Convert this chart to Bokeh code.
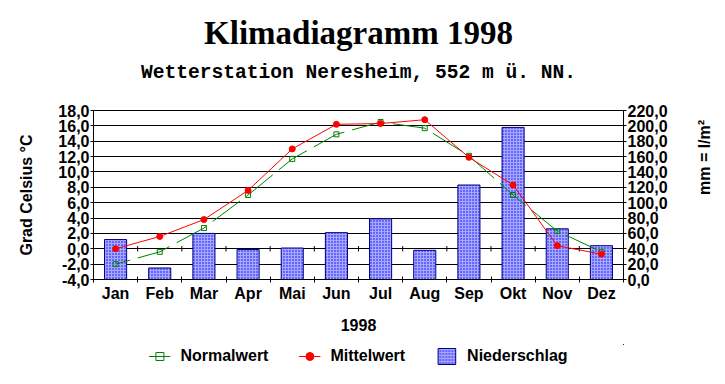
import math
from bokeh.plotting import figure
from bokeh.layouts import column
from bokeh.models import Range1d, LinearAxis, FixedTicker, Legend, LegendItem, Title
from bokeh.embed import file_html
from bokeh.resources import INLINE

# ---- data ----
months = ["Jan", "Feb", "Mar", "Apr", "Mai", "Jun", "Jul", "Aug", "Sep", "Okt", "Nov", "Dez"]
normalwert = [-2.0, -0.4, 2.7, 7.0, 11.7, 14.9, 16.5, 15.7, 12.1, 7.0, 2.3, -0.4]
mittelwert = [0.0, 1.6, 3.8, 7.6, 13.0, 16.2, 16.3, 16.8, 11.9, 8.3, 0.4, -0.7]
niederschlag = [52, 15, 60, 39, 41, 61, 79, 38, 123, 198, 66, 44]
temp_ticks = [-4, -2, 0, 2, 4, 6, 8, 10, 12, 14, 16, 18]
mm_ticks = [0, 20, 40, 60, 80, 100, 120, 140, 160, 180, 200, 220]

n = len(months)
centers = [i + 0.5 for i in range(n)]
bounds = [float(i) for i in range(n + 1)]

def de(v):
    return f"{v:.1f}".replace(".", ",")

FONT = "Liberation Sans"
GREEN, RED = "#008000", "#ff0000"
BAR = dict(fill_color="#a8a8ff", hatch_pattern="dot", hatch_color="#0000ff", hatch_scale=3,
           hatch_weight=1, line_color="#000080", line_width=1)

fig = figure(width=725, height=344, output_backend="svg", toolbar_location=None,
             x_range=Range1d(0, n), y_range=Range1d(temp_ticks[0], temp_ticks[-1]),
             min_border_left=93, min_border_right=102, min_border_top=110, min_border_bottom=65)
fig.extra_y_ranges = {"mm": Range1d(mm_ticks[0], mm_ticks[-1])}
fig.outline_line_color = "black"
fig.xgrid.visible = False

# titles
fig.title.text = "Klimadiagramm 1998"
fig.title.align = "center"
fig.title.offset = 3
fig.title.text_font = "Liberation Serif"
fig.title.text_font_style = "bold"
fig.title.text_font_size = "33px"
fig.title.text_color = "black"
sub = Title(text="Wetterstation Neresheim, 552 m ü. NN.", align="center",
            text_font="Liberation Mono", text_font_style="bold",
            text_font_size="19.6px", text_color="black")
try:
    fig.title.standoff = -36
    sub.standoff = 54
except Exception:
    fig.title.standoff = 0
    sub.standoff = 42
fig.add_layout(sub, "above")

# left axis
ya = fig.yaxis[0]
ya.ticker = FixedTicker(ticks=temp_ticks)
ya.major_label_overrides = {t: de(t) for t in temp_ticks}
ya.axis_label = "Grad Celsius °C"
ya.minor_tick_line_color = None
ya.major_tick_in = 0
ya.major_tick_out = 3
ya.major_label_standoff = 1

fig.ygrid.ticker = FixedTicker(ticks=temp_ticks)
fig.ygrid.grid_line_color = "black"
fig.ygrid.grid_line_width = 1

# right axis
ra = LinearAxis(y_range_name="mm", ticker=FixedTicker(ticks=mm_ticks),
                major_label_overrides={t: de(t) for t in mm_ticks},
                axis_label="mm = l/m²")
ra.minor_tick_line_color = None
ra.major_tick_in = 0
ra.major_tick_out = 3
ra.major_label_standoff = 1
if "axis_label_orientation" in ra.properties():
    ra.axis_label_orientation = math.pi / 2
fig.add_layout(ra, "right")

# x axis
xa = fig.xaxis[0]
xa.ticker = FixedTicker(ticks=centers, minor_ticks=bounds)
xa.major_label_overrides = {c: m for c, m in zip(centers, months)}
xa.major_tick_line_color = None
xa.major_tick_in = 0
xa.major_tick_out = 0
xa.minor_tick_in = 3
xa.minor_tick_out = 3
xa.minor_tick_line_color = "black"
xa.major_label_standoff = 2
xa.axis_label = "1998"

for ax in (ya, ra, xa):
    ax.axis_line_color = "black"
    ax.major_label_text_font = FONT
    ax.major_label_text_font_style = "bold"
    ax.major_label_text_font_size = "16px"
    ax.major_label_text_color = "black"
    ax.axis_label_text_font = FONT
    ax.axis_label_text_font_style = "bold"
    ax.axis_label_text_font_size = "16px"
    ax.axis_label_text_color = "black"
ya.axis_label_standoff = 20
ra.axis_label_standoff = 34
xa.axis_label_standoff = 14

# bars (precipitation)
fig.vbar(x=centers, top=niederschlag, bottom=mm_ticks[0], width=0.5, y_range_name="mm", **BAR)

# small ticks on the zero line at month boundaries
inner = bounds[1:-1]
fig.segment(x0=inner, x1=inner, y0=[-0.35] * len(inner), y1=[0.35] * len(inner),
            line_color="black", line_width=1)

# Normalwert
fig.line(centers, normalwert, line_color=GREEN, line_width=1, line_dash="34 8", line_dash_offset=19)
fig.scatter(centers, normalwert, marker="square", size=5, fill_color=None, line_color=GREEN, line_width=1)

# Mittelwert
fig.line(centers, mittelwert, line_color=RED, line_width=1)
fig.scatter(centers, mittelwert, marker="circle", size=6, fill_color=RED, line_color=RED)

# ---- legend strip below the chart (its data lies outside the strip's visible range) ----
leg = figure(width=725, height=24, output_backend="svg", toolbar_location=None,
             x_range=Range1d(-20, -19), y_range=Range1d(-20, -19),
             x_axis_location=None, y_axis_location=None,
             min_border_left=93, min_border_right=102, min_border_top=0, min_border_bottom=0)
leg.grid.visible = False
leg.outline_line_color = None
gl = leg.line(centers, normalwert, line_color=GREEN, line_width=1)
gs = leg.scatter(centers, normalwert, marker="square", size=5, fill_color=None,
                 line_color=GREEN, line_width=1)
rl = leg.line(centers, mittelwert, line_color=RED, line_width=1)
rs = leg.scatter(centers, mittelwert, marker="circle", size=6, fill_color=RED, line_color=RED)
bb = leg.vbar(x=centers, top=niederschlag, width=0.5, **BAR)

legend = Legend(items=[LegendItem(label="Normalwert", renderers=[gl, gs]),
                       LegendItem(label="Mittelwert", renderers=[rl, rs]),
                       LegendItem(label="Niederschlag", renderers=[bb])],
                location="center", orientation="horizontal", border_line_color=None,
                background_fill_alpha=0, padding=0, margin=0, spacing=30,
                glyph_width=22, glyph_height=20, label_standoff=10,
                label_text_font=FONT, label_text_font_style="bold",
                label_text_font_size="16px", label_text_color="black")
leg.add_layout(legend)

p = column(fig, leg, spacing=0)
open("out.html", "w").write(file_html(p, INLINE))
